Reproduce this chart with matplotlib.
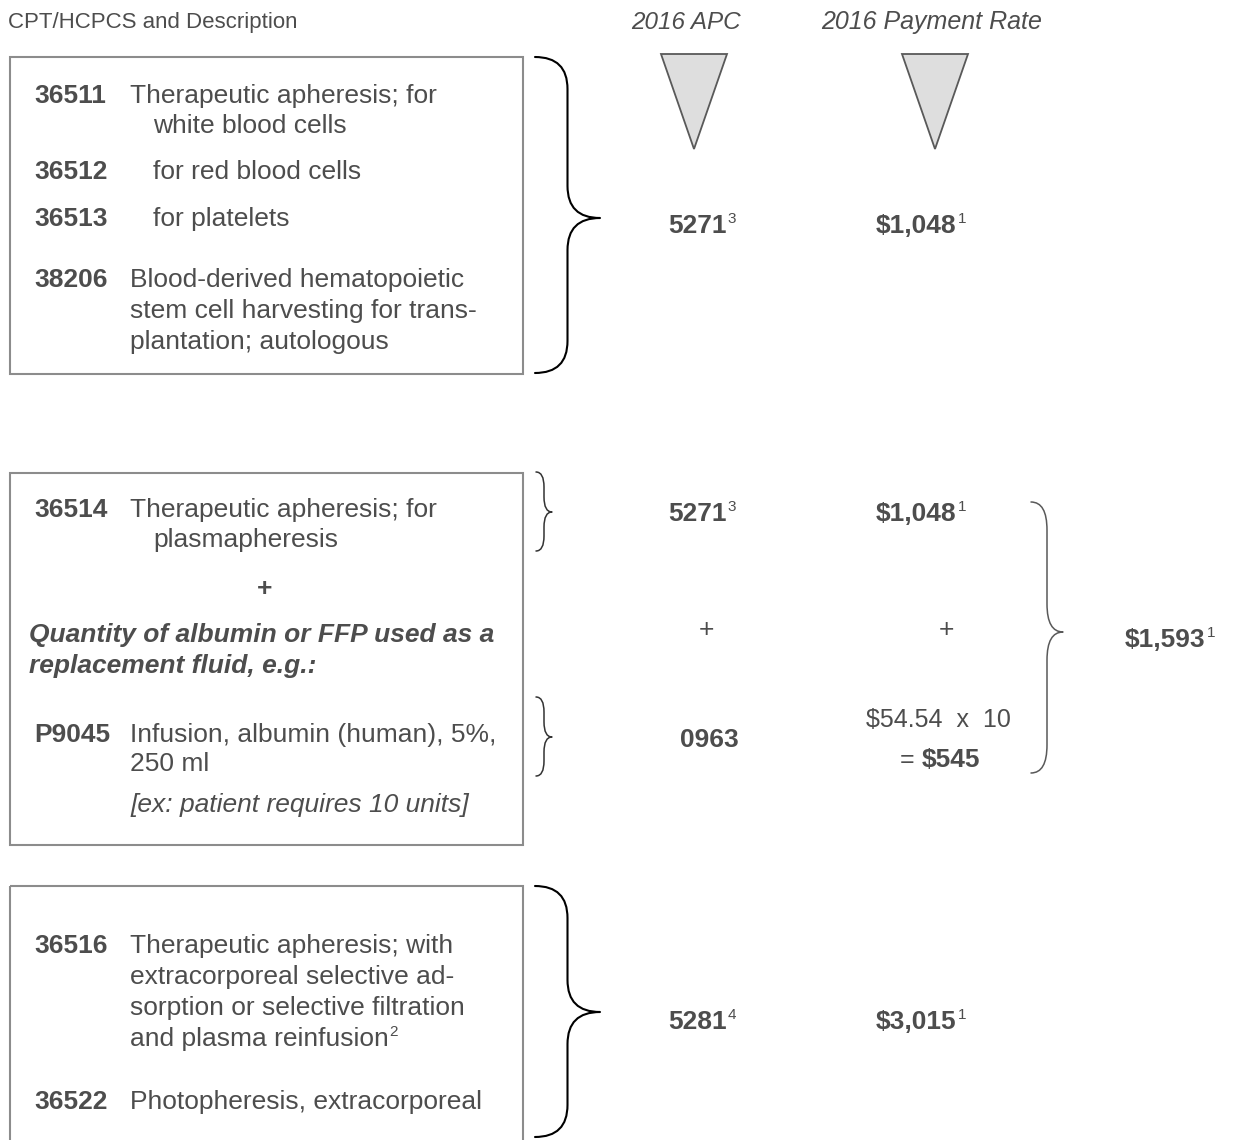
import matplotlib
matplotlib.use('Agg')
import matplotlib.pyplot as plt
from matplotlib.path import Path
from matplotlib.patches import PathPatch, Rectangle, Polygon

plt.rcParams['font.family'] = ['Liberation Sans', 'DejaVu Sans']

# --- content ---
col_headers = ['CPT/HCPCS and Description', '2016 APC', '2016 Payment Rate']

box1_codes = ['36511', '36512', '36513', '38206']
box1_lines = [['Therapeutic apheresis; for', 'white blood cells'],
              ['for red blood cells'],
              ['for platelets'],
              ['Blood-derived hematopoietic', 'stem cell harvesting for trans-',
               'plantation; autologous']]

box2_code_a = '36514'
box2_lines_a = ['Therapeutic apheresis; for', 'plasmapheresis']
box2_note = ['Quantity of albumin or FFP used as a', 'replacement fluid, e.g.:']
box2_code_b = 'P9045'
box2_lines_b = ['Infusion, albumin (human), 5%,', '250 ml']
box2_example = '[ex: patient requires 10 units]'

box3_codes = ['36516', '36522']
box3_lines = [['Therapeutic apheresis; with', 'extracorporeal selective ad-',
               'sorption or selective filtration', 'and plasma reinfusion'],
              ['Photopheresis, extracorporeal']]
box3_note = '2'

apc_codes = ['5271', '5271', '0963', '5281']
apc_notes = ['3', '3', '', '4']
pay_rates = ['$1,048', '$1,048', '$545', '$3,015']
pay_notes = ['1', '1', '', '1']
unit_price = '$54.54'
units = '10'
combined_rate = '$1,593'
combined_note = '1'

# --- styling ---
TXT = '#4d4d4d'
EDGE = '#8c8c8c'
FS = 19
VFS = 19
SFS = 11

W, H = 1233, 1140
fig = plt.figure(figsize=(W / 100, H / 100), dpi=100)
ax = fig.add_axes([0, 0, 1, 1])
ax.set_xlim(0, W)
ax.set_ylim(H, 0)
ax.axis('off')


def cap(fs):
    return 0.716 * fs * 100 / 72


def put(x, yc, s, fs=FS, weight='normal', style='normal', ha='left', color=TXT):
    return ax.text(x, yc + cap(fs) / 2, s, fontsize=fs, fontweight=weight,
                   fontstyle=style, ha=ha, va='baseline', color=color)


def right_of(t):
    r = fig.canvas.get_renderer()
    bb = t.get_window_extent(r)
    return ax.transData.inverted().transform((bb.x1, bb.y0))[0]


def sup(t, s, fs=SFS, main_fs=VFS, gap=1):
    if not s:
        return
    x = right_of(t) + gap
    base = t.get_position()[1] - cap(main_fs) + cap(fs) - 2
    ax.text(x, base, s, fontsize=fs, color=TXT, ha='left', va='baseline')


def brace(x0, xt, y0, y1, ym, r, color, lw):
    xm = (x0 + xt) / 2
    verts = [(x0, y0), (xm, y0), (xm, y0 + r),
             (xm, ym - r), (xm, ym), (xt, ym),
             (xm, ym), (xm, ym + r),
             (xm, y1 - r), (xm, y1), (x0, y1)]
    codes = [Path.MOVETO, Path.CURVE3, Path.CURVE3,
             Path.LINETO, Path.CURVE3, Path.CURVE3,
             Path.CURVE3, Path.CURVE3,
             Path.LINETO, Path.CURVE3, Path.CURVE3]
    ax.add_patch(PathPatch(Path(verts, codes), fill=False, ec=color, lw=lw,
                           capstyle='round', joinstyle='round'))


CODE_X, DESC_X, IND_X = 34, 130, 153

# headers
put(8, 20, col_headers[0], fs=16)
put(686, 20, col_headers[1], fs=17.5, style='italic', ha='center')
put(932, 20, col_headers[2], fs=18, style='italic', ha='center')

for tip in (694, 935):
    ax.add_patch(Polygon([(tip - 33, 54), (tip + 33, 54), (tip, 149)], closed=True,
                         fc='#dedede', ec='#595959', lw=1.3))

# box 1
ax.add_patch(Rectangle((10, 57), 513, 317, fill=False, ec=EDGE, lw=1.5))
rows1 = [[94, 124], [170], [217], [278, 309, 340]]
indent1 = [[False, True], [True], [True], [False, False, False]]
for code, lines, ys, ind in zip(box1_codes, box1_lines, rows1, indent1):
    put(CODE_X, ys[0], code, weight='bold')
    for ln, y, i in zip(lines, ys, ind):
        put(IND_X if i else DESC_X, y, ln)
brace(535, 600, 57, 373, 218, 32, 'black', 1.5)

t = put(668, 224, apc_codes[0], fs=VFS, weight='bold')
sup(t, apc_notes[0])
t = put(876, 224, pay_rates[0], fs=VFS, weight='bold')
sup(t, pay_notes[0])

# box 2
ax.add_patch(Rectangle((10, 473), 513, 372, fill=False, ec=EDGE, lw=1.5))
put(CODE_X, 508, box2_code_a, weight='bold')
put(DESC_X, 508, box2_lines_a[0])
put(IND_X, 538, box2_lines_a[1])
put(265, 587, '+', weight='bold', ha='center')
put(29, 633, box2_note[0], weight='bold', style='italic')
put(29, 664, box2_note[1], weight='bold', style='italic')
put(CODE_X, 733, box2_code_b, weight='bold')
put(DESC_X, 733, box2_lines_b[0])
put(DESC_X, 762, box2_lines_b[1])
put(DESC_X, 803, box2_example, style='italic')
brace(536, 552, 472, 551, 512, 15, '#333333', 1.1)
brace(536, 552, 697, 776, 737, 15, '#333333', 1.1)

t = put(668, 512, apc_codes[1], fs=VFS, weight='bold')
sup(t, apc_notes[1])
t = put(876, 512, pay_rates[1], fs=VFS, weight='bold')
sup(t, pay_notes[1])
put(706, 628, '+', fs=VFS, ha='center')
put(946, 628, '+', fs=VFS, ha='center')
put(680, 738, apc_codes[2], fs=VFS, weight='bold')
put(866, 718, f'{unit_price}  x  {units}', fs=18)
t = put(900, 758, '= ', fs=18)
put(right_of(t), 758, pay_rates[2], fs=VFS, weight='bold')
brace(1031, 1063, 502, 773, 632, 28, '#595959', 1.1)
t = put(1125, 638, combined_rate, fs=VFS, weight='bold')
sup(t, combined_note)

# box 3
ax.add_patch(Rectangle((10, 886), 513, 300, fill=False, ec=EDGE, lw=1.5))
rows3 = [[944, 975, 1006, 1037], [1100]]
for code, lines, ys in zip(box3_codes, box3_lines, rows3):
    put(CODE_X, ys[0], code, weight='bold')
    for ln, y in zip(lines, ys):
        put(DESC_X, y, ln)
sup(ax.texts[-3], box3_note, fs=11, main_fs=FS, gap=1)
brace(535, 600, 886, 1137, 1012, 32, 'black', 1.5)

t = put(668, 1020, apc_codes[3], fs=VFS, weight='bold')
sup(t, apc_notes[3])
t = put(876, 1020, pay_rates[3], fs=VFS, weight='bold')
sup(t, pay_notes[3])

fig.savefig('out.png', dpi=100)
